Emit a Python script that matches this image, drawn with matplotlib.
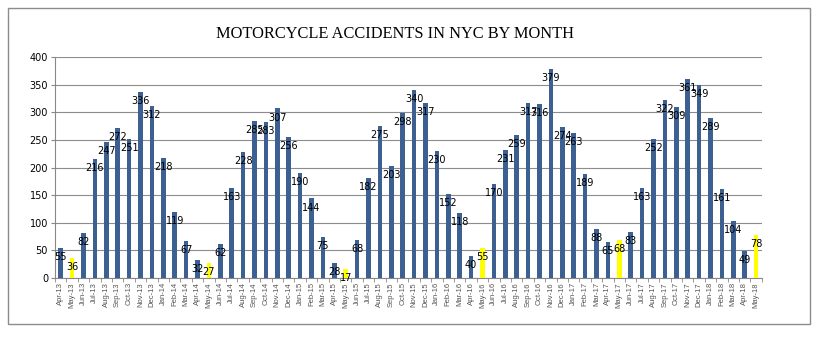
import numpy as np
import matplotlib.pyplot as plt
from matplotlib.patches import Rectangle

months = ['Apr-13', 'May-13', 'Jun-13', 'Jul-13', 'Aug-13', 'Sep-13', 'Oct-13', 'Nov-13', 'Dec-13',
          'Jan-14', 'Feb-14', 'Mar-14', 'Apr-14', 'May-14', 'Jun-14', 'Jul-14', 'Aug-14', 'Sep-14',
          'Oct-14', 'Nov-14', 'Dec-14', 'Jan-15', 'Feb-15', 'Mar-15', 'Apr-15', 'May-15', 'Jun-15',
          'Jul-15', 'Aug-15', 'Sep-15', 'Oct-15', 'Nov-15', 'Dec-15', 'Jan-16', 'Feb-16', 'Mar-16',
          'Apr-16', 'May-16', 'Jun-16', 'Jul-16', 'Aug-16', 'Sep-16', 'Oct-16', 'Nov-16', 'Dec-16',
          'Jan-17', 'Feb-17', 'Mar-17', 'Apr-17', 'May-17', 'Jun-17', 'Jul-17', 'Aug-17', 'Sep-17',
          'Oct-17', 'Nov-17', 'Dec-17', 'Jan-18', 'Feb-18', 'Mar-18', 'Apr-18', 'May-18']

accidents = [55, 36, 82, 216, 247, 272, 251, 336, 312,
             218, 119, 67, 32, 27, 62, 163, 228, 285,
             283, 307, 256, 190, 144, 75, 28, 17, 68,
             182, 275, 203, 298, 340, 317, 230, 152, 118,
             40, 55, 170, 231, 259, 317, 316, 379, 274,
             263, 189, 88, 65, 68, 83, 163, 252, 322,
             309, 361, 349, 289, 161, 104, 49, 78]

# May bars are highlighted in yellow
highlight = [m.startswith('May') for m in months]

blue = '#3b6091'
yellow = '#ffff00'
colors = [yellow if h else blue for h in highlight]

fig = plt.figure(figsize=(8.28, 3.38), dpi=100)
ax = fig.add_axes([0.0664, 0.1775, 0.8536, 0.6535])

x = np.arange(len(months))
bars = ax.bar(x, accidents, width=0.4, color=colors, zorder=3)

for xi, v in zip(x, accidents):
    ax.annotate(str(v), (xi, v), xytext=(0, -6.5), textcoords='offset points',
                ha='center', va='center', fontsize=7, color='black', zorder=4)

ax.set_xlim(-0.5, len(months) - 0.5)
ax.set_ylim(0, 400)
ax.set_yticks(range(0, 401, 50))
ax.yaxis.grid(True, color='#8c8c8c', linewidth=0.8, zorder=0)
ax.set_xticks(x)
ax.set_xticklabels(months, rotation=90, fontsize=5.5, color='#555555', family='Liberation Sans')
ax.set_xticks(np.arange(-0.5, len(months), 1), minor=True)
ax.tick_params(axis='x', which='major', length=0, pad=3)
ax.tick_params(axis='x', which='minor', length=3, color='#888888')
ax.tick_params(axis='y', labelsize=7, length=3, color='#888888', pad=2)

for s in ['top', 'right']:
    ax.spines[s].set_visible(False)
ax.spines['left'].set_color('#888888')
ax.spines['bottom'].set_color('#888888')

fig.text(0.477, 0.9, 'MOTORCYCLE ACCIDENTS IN NYC BY MONTH', ha='center', va='center',
         fontsize=11.8, family='Liberation Serif')

fig.patches.append(Rectangle((0.0097, 0.0414), 0.968, 0.935, transform=fig.transFigure,
                             fill=False, edgecolor='#8c8c8c', linewidth=1))

fig.savefig('out.png', dpi=100)
